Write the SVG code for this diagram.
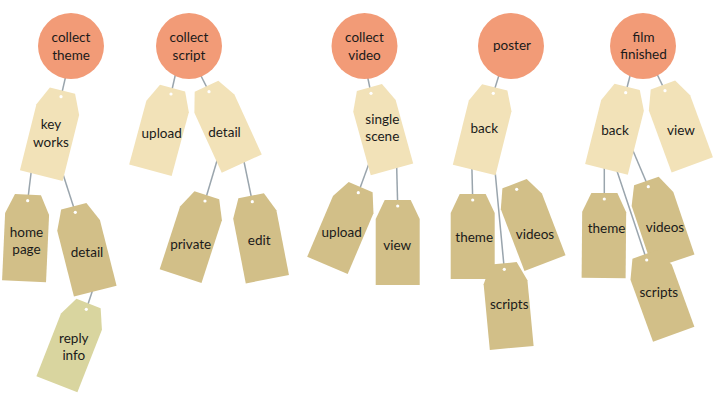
<svg xmlns="http://www.w3.org/2000/svg" xmlns:xlink="http://www.w3.org/1999/xlink" width="720" height="405" viewBox="0 0 720 405">
<style>
.circ{fill:#F29B77}
.t1{fill:#F2E2B8}
.t2{fill:#D2BF88}
.t3{fill:#D9D59F}
.hole{fill:#ffffff}
.lbl{font-family:Lato,"Open Sans",sans-serif;font-size:13.5px;fill:#1a1a1a;text-anchor:middle}
.conn line{stroke:#9AA5AD;stroke-width:1.5}
</style>
<defs>
<path id="tag" d="M-13,-6 L13,-6 L22,13 L22,79 L-22,79 L-22,13 Z"/>
</defs>
<rect width="720" height="405" fill="#ffffff"/>
<g id="connectors" class="conn">
<line x1="66" y1="75" x2="61" y2="96.7"/>
<line x1="32" y1="165" x2="27.7" y2="200.7"/>
<line x1="61" y1="168" x2="75.3" y2="212.3"/>
<line x1="95" y1="283" x2="86.3" y2="309.3"/>
<line x1="176" y1="72" x2="171" y2="94"/>
<line x1="199" y1="72" x2="209" y2="91.7"/>
<line x1="219" y1="154" x2="205" y2="201"/>
<line x1="242" y1="152" x2="252.3" y2="201.7"/>
<line x1="367" y1="74" x2="371" y2="93.3"/>
<line x1="371" y1="158" x2="358.3" y2="192.7"/>
<line x1="396.5" y1="160" x2="397.7" y2="206"/>
<line x1="500" y1="72" x2="493.3" y2="93.3"/>
<line x1="471.7" y1="160" x2="472.7" y2="200"/>
<line x1="494" y1="160" x2="504.3" y2="269.3"/>
<line x1="631" y1="72" x2="625.7" y2="92.7"/>
<line x1="656" y1="72" x2="665" y2="90.7"/>
<line x1="604.3" y1="160" x2="604.3" y2="199"/>
<line x1="614" y1="162" x2="646.7" y2="260"/>
<line x1="628" y1="139" x2="648.3" y2="186.7"/>
</g>

<g id="collect-theme">
<circle class="circ" cx="71" cy="46" r="33"/>
<text class="lbl" x="71" y="42">collect<tspan x="71" dy="17.5">theme</tspan></text>
</g>
<g id="collect-script">
<circle class="circ" cx="189" cy="46" r="33"/>
<text class="lbl" x="189" y="42">collect<tspan x="189" dy="17.5">script</tspan></text>
</g>
<g id="collect-video">
<circle class="circ" cx="364.5" cy="46" r="33"/>
<text class="lbl" x="364.5" y="42">collect<tspan x="364.5" dy="17.5">video</tspan></text>
</g>
<g id="poster">
<circle class="circ" cx="511" cy="46" r="33"/>
<text class="lbl" x="512" y="50">poster</text>
</g>
<g id="film-finished">
<circle class="circ" cx="643" cy="46" r="33"/>
<text class="lbl" x="643.5" y="41.5">film<tspan x="643.5" dy="17.5">finished</tspan></text>
</g>

<g id="key-works">
<use xlink:href="#tag" href="#tag" class="t1" transform="translate(61,96.7) rotate(14) scale(1,1.03)"/>
<circle class="hole" cx="61" cy="96.7" r="1.6"/>
<text class="lbl" x="51" y="129">key<tspan x="51" dy="17.5">works</tspan></text>
</g>
<g id="home-page">
<use xlink:href="#tag" href="#tag" class="t2" transform="translate(27.7,200.7) rotate(2.6) scale(1,1.02)"/>
<circle class="hole" cx="27.7" cy="200.7" r="1.6"/>
<text class="lbl" x="26.5" y="236.5">home<tspan x="26.5" dy="17.5">page</tspan></text>
</g>
<g id="detail-theme">
<use xlink:href="#tag" href="#tag" class="t2" transform="translate(75.3,212.3) rotate(-14.2) scale(1,1.03)"/>
<circle class="hole" cx="75.3" cy="212.3" r="1.6"/>
<text class="lbl" x="87" y="256.5">detail</text>
</g>
<g id="reply-info">
<use xlink:href="#tag" href="#tag" class="t3" transform="translate(86.3,309.3) rotate(21.4) scale(1,1.02)"/>
<circle class="hole" cx="86.3" cy="309.3" r="1.6"/>
<text class="lbl" x="73.8" y="343">reply<tspan x="73.8" dy="17">info</tspan></text>
</g>

<g id="upload-script">
<use xlink:href="#tag" href="#tag" class="t1" transform="translate(171,94) rotate(15.1)"/>
<circle class="hole" cx="171" cy="94" r="1.6"/>
<text class="lbl" x="161.7" y="138.3">upload</text>
</g>
<g id="detail-script">
<use xlink:href="#tag" href="#tag" class="t1" transform="translate(209,91.7) rotate(-24.5)"/>
<circle class="hole" cx="209" cy="91.7" r="1.6"/>
<text class="lbl" x="224.5" y="136.7">detail</text>
</g>
<g id="private">
<use xlink:href="#tag" href="#tag" class="t2" transform="translate(205,201) rotate(18)"/>
<circle class="hole" cx="205" cy="201" r="1.6"/>
<text class="lbl" x="190.7" y="248.5">private</text>
</g>
<g id="edit">
<use xlink:href="#tag" href="#tag" class="t2" transform="translate(252.3,201.7) rotate(-11)"/>
<circle class="hole" cx="252.3" cy="201.7" r="1.6"/>
<text class="lbl" x="259.2" y="245">edit</text>
</g>

<g id="single-scene">
<use xlink:href="#tag" href="#tag" class="t1" transform="translate(371,93.3) rotate(-15.4)"/>
<circle class="hole" cx="371" cy="93.3" r="1.6"/>
<text class="lbl" x="382.3" y="124">single<tspan x="382.3" dy="17">scene</tspan></text>
</g>
<g id="upload-video">
<use xlink:href="#tag" href="#tag" class="t2" transform="translate(358.3,192.7) rotate(23)"/>
<circle class="hole" cx="358.3" cy="192.7" r="1.6"/>
<text class="lbl" x="341.7" y="237.3">upload</text>
</g>
<g id="view-video">
<use xlink:href="#tag" href="#tag" class="t2" transform="translate(397.7,206) rotate(0)"/>
<circle class="hole" cx="397.7" cy="206" r="1.6"/>
<text class="lbl" x="397.2" y="250">view</text>
</g>

<g id="back-poster">
<use xlink:href="#tag" href="#tag" class="t1" transform="translate(493.3,93.3) rotate(14)"/>
<circle class="hole" cx="493.3" cy="93.3" r="1.6"/>
<text class="lbl" x="484.3" y="133.3">back</text>
</g>
<g id="theme-poster">
<use xlink:href="#tag" href="#tag" class="t2" transform="translate(472.7,200) rotate(0)"/>
<circle class="hole" cx="472.7" cy="200" r="1.6"/>
<text class="lbl" x="474.2" y="241.7">theme</text>
</g>
<g id="videos-poster">
<use xlink:href="#tag" href="#tag" class="t2" transform="translate(516.7,189.3) rotate(-21)"/>
<circle class="hole" cx="516.7" cy="189.3" r="1.6"/>
<text class="lbl" x="535" y="239.3">videos</text>
</g>
<g id="scripts-poster">
<use xlink:href="#tag" href="#tag" class="t2" transform="translate(504.3,269.3) rotate(-5.4)"/>
<circle class="hole" cx="504.3" cy="269.3" r="1.6"/>
<text class="lbl" x="509.2" y="308.5">scripts</text>
</g>

<g id="back-film">
<use xlink:href="#tag" href="#tag" class="t1" transform="translate(625.7,92.7) rotate(14.1)"/>
<circle class="hole" cx="625.7" cy="92.7" r="1.6"/>
<text class="lbl" x="615" y="135">back</text>
</g>
<g id="view-film">
<use xlink:href="#tag" href="#tag" class="t1" transform="translate(665,90.7) rotate(-20.2)"/>
<circle class="hole" cx="665" cy="90.7" r="1.6"/>
<text class="lbl" x="681" y="135">view</text>
</g>
<g id="theme-film">
<use xlink:href="#tag" href="#tag" class="t2" transform="translate(604.3,199) rotate(0.5)"/>
<circle class="hole" cx="604.3" cy="199" r="1.6"/>
<text class="lbl" x="606.5" y="233.3">theme</text>
</g>
<g id="videos-film">
<use xlink:href="#tag" href="#tag" class="t2" transform="translate(648.3,186.7) rotate(-18.7)"/>
<circle class="hole" cx="648.3" cy="186.7" r="1.6"/>
<text class="lbl" x="665" y="231.7">videos</text>
</g>
<g id="scripts-film">
<use xlink:href="#tag" href="#tag" class="t2" transform="translate(646.7,260) rotate(-20)"/>
<circle class="hole" cx="646.7" cy="260" r="1.6"/>
<text class="lbl" x="658.8" y="296.7">scripts</text>
</g>
</svg>
